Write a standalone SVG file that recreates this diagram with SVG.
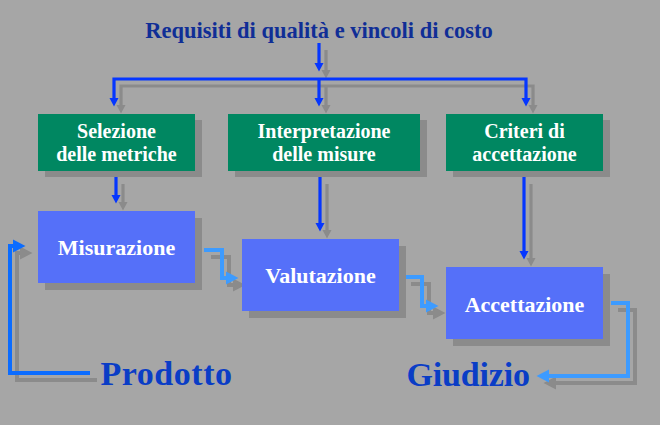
<svg xmlns="http://www.w3.org/2000/svg" width="660" height="425" viewBox="0 0 660 425">
<style>
text{font-family:"Liberation Serif","DejaVu Serif",serif;font-weight:bold}
.shadow{fill:#8b8b8b}
.green{fill:#008761}
.blue{fill:#5570f9}
.gt{fill:#ffffff;font-size:20px;text-anchor:middle}
.bt{fill:#ffffff;font-size:22px;text-anchor:middle}
.big{fill:#0a3dc6;font-size:34px}
.title{fill:#102e96;font-size:22.5px;text-anchor:middle}
.c{fill:none;stroke-linejoin:miter}
.dk{stroke:#0536ff;stroke-width:3.2}
.lt{stroke:#3d9bff;stroke-width:4}
.pr{stroke:#0b6cff;stroke-width:4}
.sh{stroke:#8b8b8b}
</style>
<defs>
<marker id="aDk" markerUnits="userSpaceOnUse" markerWidth="9" markerHeight="10" refX="0" refY="5" orient="auto-start-reverse"><path d="M0,0.5 L8.5,5 L0,9.5 z" fill="#0536ff"/></marker>
<marker id="aDkS" markerUnits="userSpaceOnUse" markerWidth="9" markerHeight="10" refX="0" refY="5" orient="auto-start-reverse"><path d="M0,0.5 L8.5,5 L0,9.5 z" fill="#8b8b8b"/></marker>
<marker id="aLt" markerUnits="userSpaceOnUse" markerWidth="13" markerHeight="14" refX="0" refY="7" orient="auto"><path d="M0,0.5 L12.5,7 L0,13.5 z" fill="#3d9bff"/></marker>
<marker id="aPr" markerUnits="userSpaceOnUse" markerWidth="13" markerHeight="14" refX="0" refY="7" orient="auto"><path d="M0,0.5 L12.5,7 L0,13.5 z" fill="#0b6cff"/></marker>
<marker id="aS" markerUnits="userSpaceOnUse" markerWidth="13" markerHeight="14" refX="0" refY="7" orient="auto"><path d="M0,0.5 L12.5,7 L0,13.5 z" fill="#8b8b8b"/></marker>
</defs>
<rect width="660" height="425" fill="#a6a6a6"/>

<g id="connectors">
  <g id="connector-shadows" transform="translate(7,7)">
    <path class="c sh" stroke-width="3.2" d="M319,43 V63" marker-end="url(#aDkS)"/>
    <path class="c sh" stroke-width="3.2" d="M114,98 V79 H526 V98" marker-start="url(#aDkS)" marker-end="url(#aDkS)"/>
    <path class="c sh" stroke-width="3.2" d="M319,79 V98" marker-end="url(#aDkS)"/>
    <path class="c sh" stroke-width="3.2" d="M116,177 V195" marker-end="url(#aDkS)"/>
    <path class="c sh" stroke-width="3.2" d="M320,177 V223" marker-end="url(#aDkS)"/>
    <path class="c sh" stroke-width="3.2" d="M524,177 V251" marker-end="url(#aDkS)"/>
    <path class="c sh" stroke-width="4" d="M204,250 H222 V278 H226" marker-end="url(#aS)"/>
    <path class="c sh" stroke-width="4" d="M404,277 H422 V306 H426" marker-end="url(#aS)"/>
    <path class="c sh" stroke-width="4" d="M611,303 H628 V376 H549" marker-end="url(#aS)"/>
    <path class="c sh" stroke-width="4" d="M90,373 H10 V246 H13" marker-end="url(#aS)"/>
  </g>
  <path class="c dk" d="M319,43 V63" marker-end="url(#aDk)"/>
  <path class="c dk" d="M114,98 V79 H526 V98" marker-start="url(#aDk)" marker-end="url(#aDk)"/>
  <path class="c dk" d="M319,79 V98" marker-end="url(#aDk)"/>
  <path class="c dk" d="M116,177 V195" marker-end="url(#aDk)"/>
  <path class="c dk" d="M320,177 V223" marker-end="url(#aDk)"/>
  <path class="c dk" d="M524,177 V251" marker-end="url(#aDk)"/>
  <path class="c lt" d="M204,250 H222 V278 H226" marker-end="url(#aLt)"/>
  <path class="c lt" d="M404,277 H422 V306 H426" marker-end="url(#aLt)"/>
  <path class="c lt" d="M611,303 H628 V376 H549" marker-end="url(#aLt)"/>
  <path class="c pr" d="M90,373 H10 V246 H13" marker-end="url(#aPr)"/>
</g>

<g id="title"><text class="title" x="319" y="38">Requisiti di qualità e vincoli di costo</text></g>

<g id="selezione">
  <rect class="shadow" x="45" y="120" width="157" height="57"/>
  <rect class="green" x="38" y="114" width="157" height="57"/>
  <text class="gt" x="116.5" y="138">Selezione</text>
  <text class="gt" x="116.5" y="161">delle metriche</text>
</g>
<g id="interpretazione">
  <rect class="shadow" x="235" y="120" width="192" height="57"/>
  <rect class="green" x="228" y="114" width="192" height="57"/>
  <text class="gt" x="324" y="138">Interpretazione</text>
  <text class="gt" x="324" y="161">delle misure</text>
</g>
<g id="criteri">
  <rect class="shadow" x="453" y="120" width="157" height="57"/>
  <rect class="green" x="446" y="114" width="157" height="57"/>
  <text class="gt" x="524.5" y="138">Criteri di</text>
  <text class="gt" x="524.5" y="161">accettazione</text>
</g>

<g id="misurazione">
  <rect class="shadow" x="45" y="218" width="157" height="72"/>
  <rect class="blue" x="38" y="211" width="157" height="72"/>
  <text class="bt" x="116.5" y="255">Misurazione</text>
</g>
<g id="valutazione">
  <rect class="shadow" x="249" y="246" width="157" height="72"/>
  <rect class="blue" x="242" y="239" width="157" height="72"/>
  <text class="bt" x="320.5" y="283">Valutazione</text>
</g>
<g id="accettazione">
  <rect class="shadow" x="453" y="274" width="157" height="72"/>
  <rect class="blue" x="446" y="267" width="157" height="72"/>
  <text class="bt" x="524.5" y="311.5">Accettazione</text>
</g>

<g id="prodotto"><text class="big" x="100.5" y="385" textLength="131.5">Prodotto</text></g>
<g id="giudizio"><text class="big" x="406.5" y="386" textLength="123.5">Giudizio</text></g>
</svg>
